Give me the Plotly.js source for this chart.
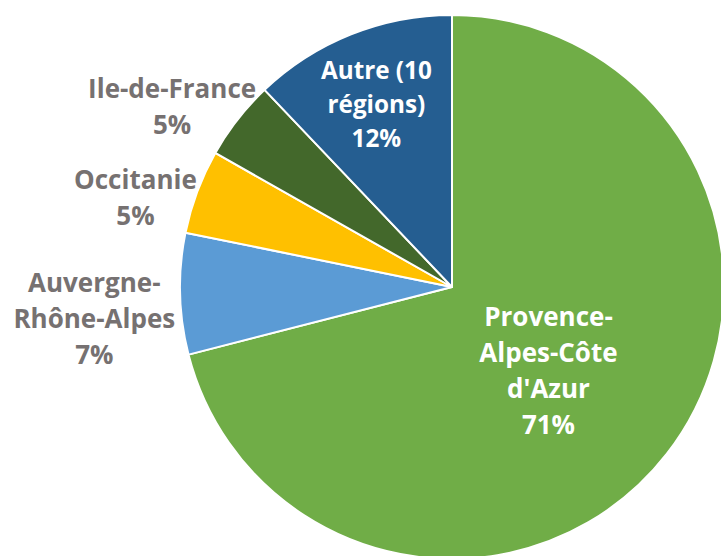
<!DOCTYPE html>
<html>
<head>
<meta charset="utf-8">
<script src="https://cdn.plot.ly/plotly-3.0.1.min.js"></script>
<style>
html, body { margin: 0; padding: 0; overflow: hidden; background: #fff; width: 721px; height: 556px; }
#chart { width: 724px; height: 559px; }
</style>
</head>
<body>
<div id="chart"></div>
<script>
// Data
var regions = ["Provence-Alpes-Côte d'Azur", "Auvergne-Rhône-Alpes", "Occitanie", "Ile-de-France", "Autre (10 régions)"];
var regionLabels = ["Provence-<br>Alpes-Côte<br>d'Azur", "Auvergne-<br>Rhône-Alpes", "Occitanie", "Ile-de-France", "Autre (10<br>régions)"];
var shares = [71.0, 7.2, 5.0, 4.7, 12.1];

// Styles
var sliceColors = ["#70AD47", "#5B9BD5", "#FFC000", "#43682B", "#255E91"];
var labelPositions = ["inside", "outside", "outside", "outside", "inside"];
var labelSizes = [26, 26, 26, 26, 26];
var labelNudge = [[-11, 0], [21, 24], [17, 10], [36, 0], [-2, 1]]; // label offsets (px), Excel-like placement
var LINE_PX = 36;

var trace = {
  type: "pie",
  labels: regions,
  values: shares,
  text: regionLabels,
  texttemplate: "%{text}<br>%{percent:.0%}",
  textposition: labelPositions,
  insidetextorientation: "horizontal",
  sort: false,
  direction: "clockwise",
  rotation: 0,
  marker: { colors: sliceColors, line: { color: "#ffffff", width: 2 } },
  insidetextfont: { family: "Open Sans", size: labelSizes, color: "#ffffff", weight: "bold" },
  outsidetextfont: { family: "Open Sans", size: labelSizes, color: "#767171", weight: "bold" },
  automargin: false,
  showlegend: false,
  hoverinfo: "label+percent"
};

var layout = {
  width: 724,
  height: 559,
  margin: { l: 180, r: 0, t: 15, b: 0 },
  paper_bgcolor: "#ffffff",
  showlegend: false,
  font: { family: "Open Sans" }
};

Plotly.newPlot("chart", [trace], layout, { displayModeBar: false, staticPlot: true }).then(function (gd) {
  // widen line spacing of the slice labels and apply Excel-like label offsets
  gd.querySelectorAll("g.slice").forEach(function (g, k) {
    var t = g.querySelector("g.slicetext text");
    if (!t) return;
    var idx = k;
    var d = g.__data__;
    if (d && typeof d.i === "number") idx = d.i;
    var b0 = t.getBBox();
    var c0x = b0.x + b0.width / 2, c0y = b0.y + b0.height / 2;
    t.querySelectorAll("tspan.line").forEach(function (ln, i) {
      ln.setAttribute("dy", (i * LINE_PX) + "px");
    });
    var b1 = t.getBBox();
    var c1x = b1.x + b1.width / 2, c1y = b1.y + b1.height / 2;
    var n = labelNudge[idx] || [0, 0];
    var tr = t.getAttribute("transform") || "";
    t.setAttribute("transform", "translate(" + n[0] + "," + n[1] + ") " + tr +
      " translate(" + (c0x - c1x) + "," + (c0y - c1y) + ")");
  });
});
</script>
</body>
</html>
